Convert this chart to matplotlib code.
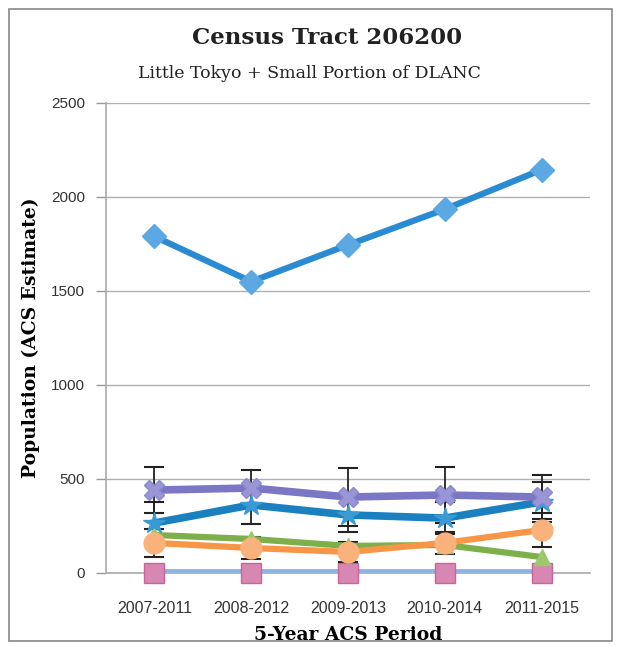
import matplotlib
matplotlib.use("Agg")
import matplotlib.pyplot as plt
from matplotlib.patches import Rectangle

periods = ["2007-2011", "2008-2012", "2009-2013", "2010-2014", "2011-2015"]
total = [1790, 1550, 1745, 1935, 2145]
purple_vals = [441, 452, 404, 415, 404]
purple_err = [122, 96, 154, 149, 117]
teal_vals = [266, 362, 309, 292, 378]
teal_err = [112, 100, 90, 86, 106]
green_vals = [202, 181, 144, 149, 85]
orange_vals = [160, 133, 112, 160, 229]
orange_err = [75, 60, 55, 60, 91]
lightblue_vals = [10, 10, 10, 10, 10]
pink_vals = [0, 0, 0, 0, 0]
yticks = [0, 500, 1000, 1500, 2000, 2500]

W, H = 617, 646
fig = plt.figure(figsize=(W / 100, H / 100), dpi=100)
fig.patch.set_facecolor("white")

L, R, B, T = 106, 590, 573, 103
ax = fig.add_axes([L / W, 1 - B / H, (R - L) / W, (B - T) / H])

x = list(range(len(periods)))
serif = ["DejaVu Serif"]
sans = ["Liberation Sans", "DejaVu Sans"]

ax.set_xlim(-0.5, len(periods) - 0.5)
ax.set_ylim(0, 2500)
ax.set_yticks(yticks)
ax.set_yticklabels([str(v) for v in yticks], fontfamily=sans, fontsize=11, color="#333333")
ax.set_xticks(x)
ax.set_xticklabels(periods, fontfamily=sans, fontsize=11.5, color="#333333")
ax.tick_params(axis="y", length=7, color="#999999", width=1, pad=8)
ax.tick_params(axis="x", length=0, pad=20)
ax.grid(axis="y", color="#b0b0b0", linewidth=1)
ax.set_axisbelow(True)
for s in ["top", "right"]:
    ax.spines[s].set_visible(False)
ax.spines["left"].set_color("#aaaaaa")
ax.spines["bottom"].set_color("#aaaaaa")
ax.spines["left"].set_linewidth(1.2)
ax.spines["bottom"].set_linewidth(1.2)

lw = 4.5
ax.plot(x, lightblue_vals, color="#8DB4E2", lw=3.5, zorder=3)
ax.plot(x, pink_vals, color="#C9649A", lw=0, marker="s", ms=14, mfc="#D787B2",
        mec="#C9649A", clip_on=False, zorder=4)
ax.plot(x, green_vals, color="#7DB04B", lw=lw, marker="^", ms=12, mfc="#9CC96B",
        mec="#9CC96B", zorder=5)
ax.errorbar(x, orange_vals, yerr=orange_err, fmt="none", ecolor="#222222",
            elinewidth=1.3, capsize=7, capthick=1.5, zorder=4)
ax.plot(x, orange_vals, color="#F79646", lw=lw, marker="o", ms=15, mfc="#F9B27C",
        mec="#F9B27C", zorder=6)
ax.errorbar(x, teal_vals, yerr=teal_err, fmt="none", ecolor="#222222",
            elinewidth=1.3, capsize=7, capthick=1.5, zorder=4)
ax.plot(x, teal_vals, color="#1A80C0", lw=lw + 1, marker="*", ms=16, mfc="#3A9AD6",
        mec="#3A9AD6", zorder=7)
ax.errorbar(x, purple_vals, yerr=purple_err, fmt="none", ecolor="#222222",
            elinewidth=1.3, capsize=7, capthick=1.5, zorder=4)
ax.plot(x, purple_vals, color="#7B76C6", lw=lw + 1, marker="X", ms=15, mfc="#9A96D6",
        mec="#8C88D0", zorder=8)
ax.plot(x, total, color="#2A8BD3", lw=lw, marker="D", ms=12, mfc="#5BA8E3",
        mec="#5BA8E3", zorder=9)

ax.set_ylabel("Population (ACS Estimate)", fontfamily=serif, fontweight="bold",
              fontsize=13.5, labelpad=8)
ax.set_xlabel("5-Year ACS Period", fontfamily=serif, fontweight="bold",
              fontsize=13.5, labelpad=7)

fig.text(327 / W, 1 - 38 / H, "Census Tract 206200", ha="center", va="center",
         fontfamily=serif, fontweight="bold", fontsize=16.5, color="#222222")
fig.text(310 / W, 1 - 73 / H, "Little Tokyo + Small Portion of DLANC", ha="center",
         va="center", fontfamily=serif, fontsize=12.5, color="#222222")

fig.patches.append(Rectangle((9 / W, 1 - 641 / H), (612 - 9) / W, (641 - 9) / H,
                             transform=fig.transFigure, fill=False,
                             edgecolor="#888888", linewidth=1.2))

fig.savefig("out.png", dpi=100)
